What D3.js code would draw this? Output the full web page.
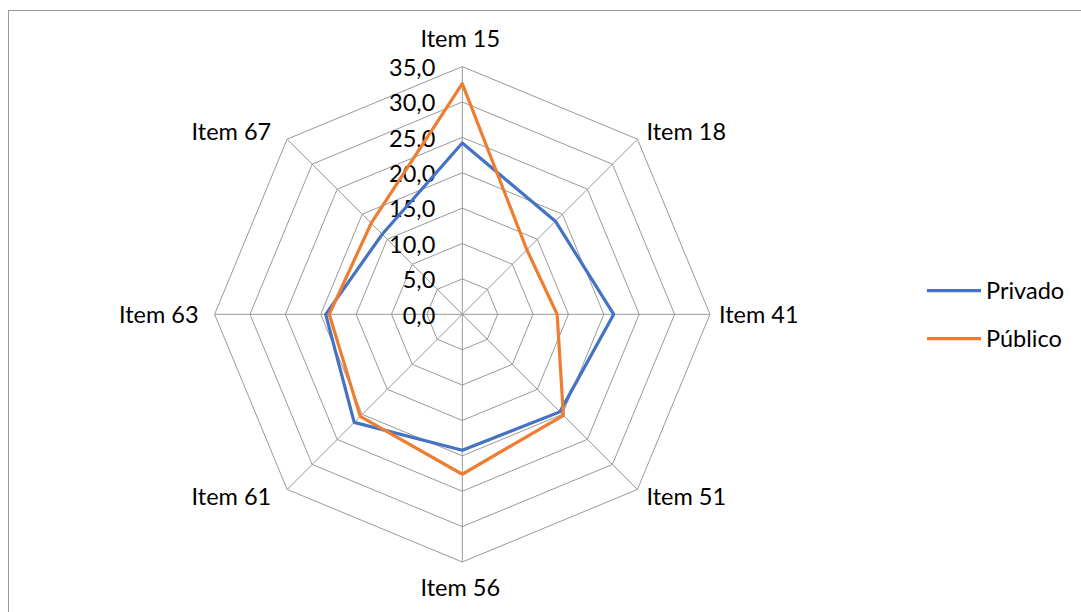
<!DOCTYPE html>
<html>
    <head>
        <meta charset="UTF-8">
        <style>
            body {margin:0; background:#fff;}
            text {font-family: Lato, "Liberation Sans", sans-serif; font-size: 23.5px; fill: #000;}
            .grid {fill:none; stroke:#999; stroke-width:1px;}
        </style>
        <script src="https://cdn.jsdelivr.net/npm/d3@7"></script>
    </head>
    <body>
        <svg width="1081" height="612"></svg>
        <script>
            //... chart values
            var categories = ["Item 15", "Item 18", "Item 41", "Item 51", "Item 56", "Item 61", "Item 63", "Item 67"];
            var privado = [24.2, 18.6, 21.4, 19.5, 19.2, 21.6, 19.3, 16.0];
            var publico = [32.6, 12.9, 13.4, 20.2, 22.6, 20.4, 18.8, 18.2];
            var ticks = [0, 5, 10, 15, 20, 25, 30, 35];
            var seriesNames = ["Privado", "Público"];
            var colors = ["#4472C4", "#ED7D31"];

            var svg = d3.select("svg");
            var cx = 462.3, cy = 314.3, R = 247.7;

            svg.append("rect")
                .attr("x", 8.5).attr("y", 10.5)
                .attr("width", 1200).attr("height", 800)
                .attr("fill", "none").attr("stroke", "#999");

            var r = d3.scaleLinear().domain([0, 35]).range([0, R]);
            var angle = d3.scalePoint().domain(categories).range([0, 2 * Math.PI * 7 / 8]);

            var g = svg.append("g").attr("transform", "translate(" + cx + "," + cy + ")");

            var radial = d3.lineRadial().curve(d3.curveLinearClosed);

            //... rings
            g.selectAll(".ring")
                .data(ticks.slice(1))
                .enter().append("path")
                .attr("class", "grid")
                .attr("d", t => radial(categories.map(c => [angle(c), r(t)])));

            //... spokes
            g.selectAll(".spoke")
                .data(categories)
                .enter().append("line")
                .attr("class", "grid")
                .attr("x1", 0).attr("y1", 0)
                .attr("x2", c => r(35) * Math.sin(angle(c)))
                .attr("y2", c => -r(35) * Math.cos(angle(c)));

            //... tick labels
            g.selectAll(".tick")
                .data(ticks)
                .enter().append("text")
                .attr("x", -27)
                .attr("y", t => -r(t) + 1)
                .attr("dy", "0.35em")
                .attr("text-anchor", "end")
                .text(t => d3.format(".1f")(t).replace(".", ","));

            //... category labels
            g.selectAll(".cat")
                .data(categories)
                .enter().append("text")
                .attr("x", c => {
                    var s = Math.sin(angle(c));
                    if (Math.abs(s) < 0.01) return -2;
                    return s > 0 ? r(35) * s + 9 : r(35) * s - 16;
                })
                .attr("y", c => {
                    var co = Math.cos(angle(c));
                    var y = -r(35) * co;
                    if (co > 0.9) return y - 28;
                    if (co < -0.9) return y + 26;
                    return y - co * 10;
                })
                .attr("dy", "0.35em")
                .attr("text-anchor", c => {
                    var s = Math.sin(angle(c));
                    return Math.abs(s) < 0.01 ? "middle" : (s > 0 ? "start" : "end");
                })
                .text(c => c);

            //... series
            [privado, publico].forEach(function(vals, i)
            {
                g.append("path")
                    .attr("fill", "none")
                    .attr("stroke", colors[i])
                    .attr("stroke-width", 3.2)
                    .attr("stroke-linejoin", "round")
                    .attr("d", radial(categories.map((c, j) => [angle(c), r(vals[j])])));
            });

            //... legend
            var lg = svg.selectAll(".legend")
                .data(seriesNames)
                .enter().append("g")
                .attr("transform", (d, i) => "translate(927," + (290.7 + i * 48) + ")");
            lg.append("line")
                .attr("x1", 0).attr("x2", 54)
                .attr("stroke", (d, i) => colors[i])
                .attr("stroke-width", 3.2);
            lg.append("text")
                .attr("x", 59)
                .attr("dy", "0.35em")
                .text(d => d);
        </script>
    </body>
</html>
